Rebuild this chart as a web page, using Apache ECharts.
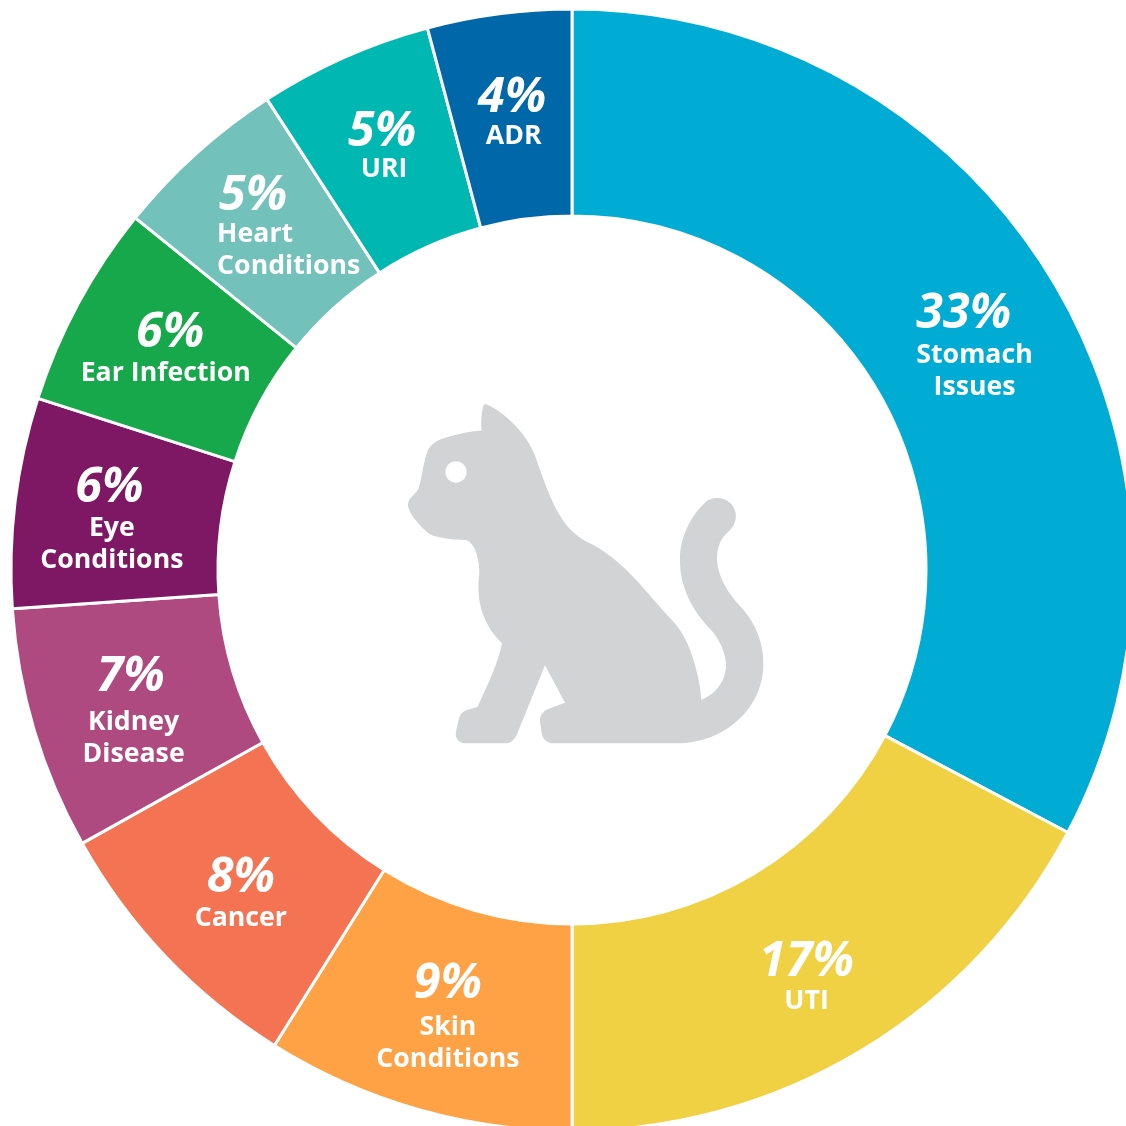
<!DOCTYPE html>
<html><head><meta charset="utf-8">
<style>html,body{margin:0;padding:0;background:#fff}#c{width:1126px;height:1126px}</style>
<script src="https://cdn.jsdelivr.net/npm/echarts@6/dist/echarts.min.js"></script>
</head><body><div id="c"></div>
<script>
const categories = ['Stomach\nIssues','UTI','Skin\nConditions','Cancer','Kidney\nDisease','Eye\nConditions','Ear Infection','Heart\nConditions','URI','ADR'];
const percentLabels = ['33%','17%','9%','8%','7%','6%','6%','5%','5%','4%'];
const values = [32.75,17.25,8.9,8,7,6.05,5.85,5.05,5,4.15];
const colors = ['#00ACD4','#F0D143','#FFA245','#F47353','#AE4A80','#7E1764','#17A84B','#72C2BB','#00B7B2','#0068A9'];
const labelNudge = [[8,14],[-3,14],[3,4],[2.5,7],[3,8],[-3,6],[-1,-2],[25,0],[-1,-1],[1.5,1]];
const percentAlign = ['left','center','center','center','center','center','center','left','center','center'];
const nameAlign = ['center','center','center','center','center','center','center','left','center','center'];
const percentPad = [[0,0],[0,0],[0,0],[0,0],[0,6],[0,5],[9,0],[2,0],[0,4],[0,3]];
const percentLine = [50,46,54,48,58,48,48,44,42,44];
const catPath = 'M283 42C310 45 400 110 432 190C470 290 500 410 590 455C700 505 770 610 850 695C900 745 930 860 934 930C985 908 1010 865 1008 820C1005 780 985 745 965 722C910 665 868 595 870 505C870 445 900 380 945 338C965 318 1000 320 1022 340C1045 365 1042 400 1018 422C990 445 980 475 981 510C985 565 1015 610 1050 648C1095 695 1122 760 1120 825C1118 960 1000 1060 860 1060L490 1060C470 1060 457 1045 455 1028L450 995C449 978 458 965 472 958L525 938L465 826L380 1035C373 1050 362 1060 345 1060L228 1060C207 1060 194 1045 198 1025L207 985C210 972 218 965 230 960L263 950C290 890 325 820 336 760C290 715 255 650 268 550C268 510 258 465 230 450C190 450 145 445 120 433C95 415 55 370 54 345C54 325 70 320 85 298C95 270 100 215 112 185C120 165 135 155 155 147C190 135 240 122 275 122C272 95 275 55 283 42Z';
const chart = echarts.init(document.getElementById('c'), null, {renderer:'canvas'});
const font = '"Open Sans","Noto Sans",sans-serif';
function rich(i){ return {
  p:{fontFamily:font,fontSize:48.5,fontWeight:700,fontStyle:'italic',color:'#fff',lineHeight:percentLine[i],align:percentAlign[i],padding:[0,percentPad[i][1],0,percentPad[i][0]]},
  n:{fontFamily:font,fontSize:26.7,fontWeight:700,color:'#fff',lineHeight:32,align:nameAlign[i]}
};}
chart.setOption({
  animation:false,
  series:[{
    type:'pie',center:[572,570],radius:[354,561],startAngle:90,clockwise:true,
    avoidLabelOverlap:false,silent:true,
    labelLayout:{hideOverlap:false},
    itemStyle:{borderColor:'#fff',borderWidth:3},
    labelLine:{show:false},
    data:categories.map((name,i)=>({
      name,value:values[i],
      itemStyle:{color:colors[i]},
      label:{show:true,position:'inside',offset:labelNudge[i],
        rich:rich(i),
        formatter:'{p|'+percentLabels[i]+'}\n'+name.split('\n').map(s=>'{n|'+s+'}').join('\n')}
    }))
  },{
    type:'custom',coordinateSystem:'none',silent:true,data:[[0]],
    renderItem:function(){
      return {type:'group',x:390,y:390,scaleX:1/3,scaleY:1/3,children:[
        {type:'path',shape:{pathData:catPath},style:{fill:'#D1D3D4'}},
        {type:'circle',shape:{cx:198,cy:246,r:32},style:{fill:'#fff'}}
      ]};
    }
  }]
});
</script></body></html>
